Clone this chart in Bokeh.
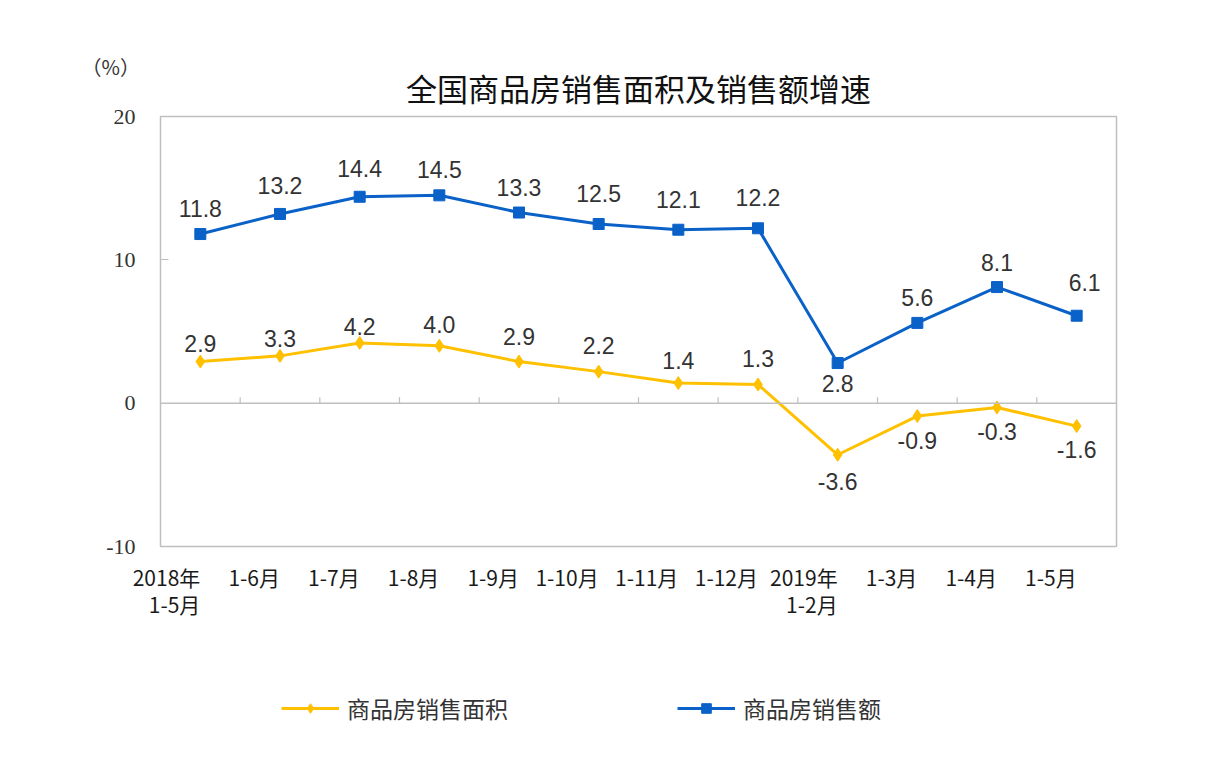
from bokeh.plotting import figure
from bokeh.layouts import column
from bokeh.models import (FactorRange, Range1d, ColumnDataSource, Span, Legend,
                          LegendItem, FixedTicker, Title)
from bokeh.transform import dodge
from bokeh.core.properties import value
from bokeh.embed import file_html
from bokeh.resources import INLINE

# ---- data ----
categories = ["2018年\n1-5月", "1-6月", "1-7月", "1-8月", "1-9月", "1-10月",
              "1-11月", "1-12月", "2019年\n1-2月", "1-3月", "1-4月", "1-5月"]
area_growth = [2.9, 3.3, 4.2, 4.0, 2.9, 2.2, 1.4, 1.3, -3.6, -0.9, -0.3, -1.6]
sales_growth = [11.8, 13.2, 14.4, 14.5, 13.3, 12.5, 12.1, 12.2, 2.8, 5.6, 8.1, 6.1]
y_ticks = [-10, 0, 10, 20]
series_names = ["商品房销售面积", "商品房销售额"]
title_text = "全国商品房销售面积及销售额增速"
unit_text = "（%）"

# ---- styles ----
YELLOW = "#FFC000"
BLUE = "#0A62C8"
GRAY = "#BFBFBF"
TXT = "#333333"
area_label_dy = [-18, -17, -16, -21, -25, -26, -23, -26, 27, 24, 24, 23]
sales_label_dy = [-26, -28, -28, -26, -25, -31, -30, -31, 20, -25, -25, -33]
sales_label_dx = [0, 0, 0, 0, 0, 0, 0, 0, 0, 0, 0, 8]

# every axis label gets two lines (a blank second line where there is none)
factors = [c if "\n" in c else c + "\n\u3000" for c in categories]

src = ColumnDataSource(dict(
    cat=factors, area=area_growth, sales=sales_growth,
    area_lbl=[f"{v:.1f}" for v in area_growth],
    sales_lbl=[f"{v:.1f}" for v in sales_growth],
    area_dy=area_label_dy, sales_dy=sales_label_dy, sales_dx=sales_label_dx,
))

p = figure(x_range=FactorRange(*factors, range_padding=0),
           y_range=Range1d(-10, 20),
           width=1229, height=650, output_backend="svg", toolbar_location=None,
           min_border_left=160, min_border_right=113,
           min_border_top=116, min_border_bottom=104)

# unit text (outermost title slot, shifted left over the y-axis labels)
p.title.text = unit_text
p.title.align = "left"
p.title.offset = -79
p.title.text_font = "Noto Sans CJK SC"
p.title.text_font_size = "20px"
p.title.text_font_style = "normal"
p.title.text_color = TXT
try:
    p.title.standoff = -50
except Exception:
    p.title.standoff = 0

# chart title (nearest the frame)
p.add_layout(Title(text=title_text, align="center", standoff=14,
                   text_font="Noto Sans CJK SC", text_font_size="31px",
                   text_font_style="normal", text_color="#111111"), "above")

p.xgrid.visible = False
p.ygrid.visible = False
p.outline_line_color = GRAY
p.outline_line_width = 1.5
p.background_fill_color = "white"
p.border_fill_color = "white"

# y axis
p.yaxis.ticker = FixedTicker(ticks=y_ticks)
p.yaxis.major_label_overrides = {t: str(t) for t in y_ticks}
p.yaxis.axis_line_color = None
p.yaxis.major_tick_in = 8
p.yaxis.major_tick_out = 0
p.yaxis.major_tick_line_color = GRAY
p.yaxis.minor_tick_line_color = None
p.yaxis.major_label_standoff = 25
p.yaxis.major_label_text_font = "Liberation Serif"
p.yaxis.major_label_text_font_size = "22px"
p.yaxis.major_label_text_color = TXT

# x axis
p.xaxis.axis_line_color = None
p.xaxis.major_tick_line_color = None
p.xaxis.minor_tick_line_color = None
p.xaxis.major_label_standoff = 38
p.xaxis.major_label_text_font = "Noto Sans CJK SC"
p.xaxis.major_label_text_font_size = "21px"
p.xaxis.major_label_text_line_height = 0.9
p.xaxis.major_label_text_color = "#1a1a1a"
p.xaxis.major_label_orientation = 0

# zero line and category boundary ticks
p.add_layout(Span(location=0, dimension="width", line_color=GRAY, line_width=1.5))
bsrc = ColumnDataSource(dict(c=factors[1:]))
p.segment(x0=dodge("c", -0.5, range=p.x_range), x1=dodge("c", -0.5, range=p.x_range),
          y0=0, y1=0.42, source=bsrc, line_color=GRAY, line_width=1.2)

# series
l1 = p.line("cat", "area", source=src, line_color=YELLOW, line_width=3)
s1 = p.scatter("cat", "area", source=src, marker="diamond", size=13,
               fill_color=YELLOW, line_color=YELLOW)
l2 = p.line("cat", "sales", source=src, line_color=BLUE, line_width=3)
s2 = p.scatter("cat", "sales", source=src, marker="square", size=11,
               fill_color=BLUE, line_color=BLUE)

# data labels
p.text("cat", "area", text="area_lbl", source=src, y_offset="area_dy",
       text_align="center", text_baseline="middle",
       text_font=value("Liberation Sans"), text_font_size="23px", text_color=TXT)
p.text("cat", "sales", text="sales_lbl", source=src, y_offset="sales_dy",
       x_offset="sales_dx",
       text_align="center", text_baseline="middle",
       text_font=value("Liberation Sans"), text_font_size="23px", text_color=TXT)

# ---- legend strip below the chart ----
lg = figure(width=1229, height=122, output_backend="svg", toolbar_location=None,
            x_axis_type=None, y_axis_type=None, min_border=0,
            x_range=Range1d(0, 1), y_range=Range1d(0, 1))
lg.xgrid.visible = False
lg.ygrid.visible = False
lg.outline_line_color = None
nan = [float("nan")]
lg1 = lg.line(nan, nan, line_color=YELLOW, line_width=3)
lg1m = lg.scatter(nan, nan, marker="diamond", size=13, fill_color=YELLOW, line_color=YELLOW)
lg2 = lg.line(nan, nan, line_color=BLUE, line_width=3)
lg2m = lg.scatter(nan, nan, marker="square", size=11, fill_color=BLUE, line_color=BLUE)
legend = Legend(items=[LegendItem(label=series_names[0], renderers=[lg1, lg1m]),
                       LegendItem(label=series_names[1], renderers=[lg2, lg2m])],
                orientation="horizontal", location=(121, 47),
                glyph_width=58, glyph_height=24, label_standoff=8, spacing=169,
                label_text_font="Noto Sans CJK SC", label_text_font_size="23px",
                label_text_color=TXT, border_line_color=None,
                background_fill_alpha=0, padding=0, margin=0)
lg.add_layout(legend, "center")

layout = column(p, lg, spacing=0)
open("out.html", "w").write(file_html(layout, INLINE))
